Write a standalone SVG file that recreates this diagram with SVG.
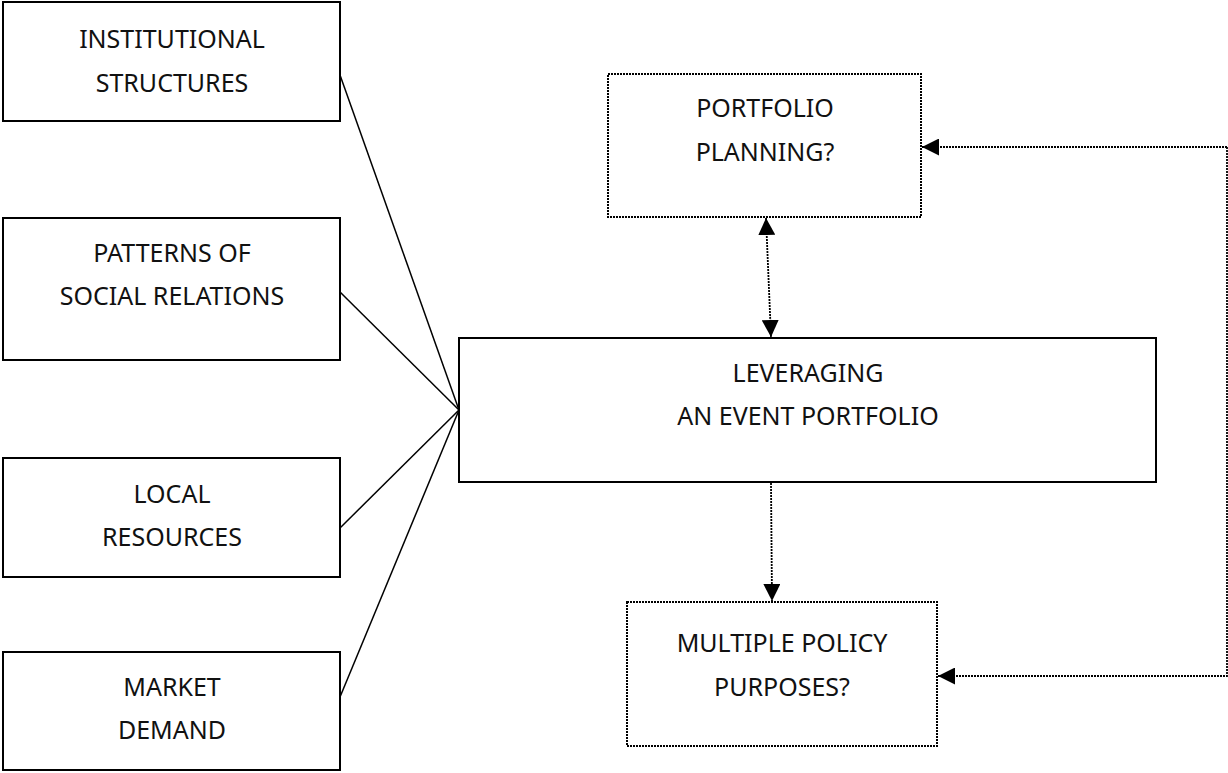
<svg xmlns="http://www.w3.org/2000/svg" width="1228" height="773" viewBox="0 0 1228 773">
<style>
.box{fill:#fff;stroke:#000;stroke-width:2}
.dbox{fill:#fff;stroke:#000;stroke-width:2;stroke-dasharray:2 1}
.t{font-family:"Noto Sans","Open Sans",sans-serif;font-size:25px;fill:#111;text-anchor:middle}
.s{stroke:#000;stroke-width:1.5;fill:none}
.d{stroke:#000;stroke-width:1.8;fill:none;stroke-dasharray:2 1}
</style>
<defs>
<marker id="ah" viewBox="0 0 10 10" refX="10" refY="5" markerWidth="17" markerHeight="17" markerUnits="userSpaceOnUse" orient="auto">
<path d="M0,0 L10,5 L0,10 z" fill="#000"/>
</marker>
<marker id="ahs" viewBox="0 0 10 10" refX="0" refY="5" markerWidth="17" markerHeight="17" markerUnits="userSpaceOnUse" orient="auto">
<path d="M10,0 L0,5 L10,10 z" fill="#000"/>
</marker>
</defs>
<g id="connectors">
<line class="s" x1="340" y1="75" x2="459" y2="410"/>
<line class="s" x1="340" y1="292" x2="459" y2="410"/>
<line class="s" x1="340" y1="528" x2="459" y2="410"/>
<line class="s" x1="340" y1="697" x2="459" y2="410"/>
<line class="d" x1="766" y1="218" x2="771" y2="337" marker-start="url(#ahs)" marker-end="url(#ah)"/>
<line class="d" x1="771" y1="483" x2="772" y2="601" marker-end="url(#ah)"/>
<polyline class="d" points="1227,147 1227,676 938,676" marker-end="url(#ah)"/>
<line class="d" x1="1227" y1="147" x2="922" y2="147" marker-end="url(#ah)"/>
</g>
<g id="n1"><rect class="box" x="3" y="2" width="337" height="119"/>
<text class="t" x="172" y="48">INSTITUTIONAL</text><text class="t" x="172" y="92">STRUCTURES</text></g>
<g id="n2"><rect class="box" x="3" y="218" width="337" height="142"/>
<text class="t" x="172" y="262">PATTERNS OF</text><text class="t" x="172" y="305">SOCIAL RELATIONS</text></g>
<g id="n3"><rect class="box" x="3" y="458" width="337" height="119"/>
<text class="t" x="172" y="503">LOCAL</text><text class="t" x="172" y="546">RESOURCES</text></g>
<g id="n4"><rect class="box" x="3" y="652" width="337" height="118"/>
<text class="t" x="172" y="696">MARKET</text><text class="t" x="172" y="739">DEMAND</text></g>
<g id="n5"><rect class="dbox" x="608" y="74" width="313" height="143"/>
<text class="t" x="765" y="117">PORTFOLIO</text><text class="t" x="765" y="161">PLANNING?</text></g>
<g id="n6"><rect class="box" x="459" y="338" width="697" height="144"/>
<text class="t" x="808" y="382">LEVERAGING</text><text class="t" x="808" y="425">AN EVENT PORTFOLIO</text></g>
<g id="n7"><rect class="dbox" x="627" y="602" width="310" height="144"/>
<text class="t" x="782" y="652">MULTIPLE POLICY</text><text class="t" x="782" y="696">PURPOSES?</text></g>
</svg>
